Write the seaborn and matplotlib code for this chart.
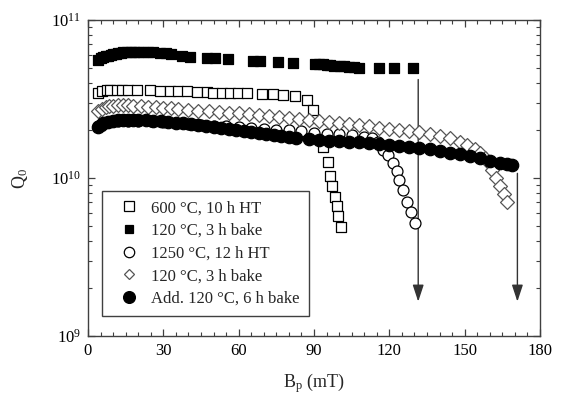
import numpy as np
import pandas as pd
import matplotlib
matplotlib.use("Agg")
import matplotlib.pyplot as plt
from matplotlib.ticker import MultipleLocator, LogLocator, NullFormatter
from matplotlib.lines import Line2D
import seaborn as sns

# ---------------- data ----------------
labels = ["600 \u00b0C, 10 h HT", "120 \u00b0C, 3 h bake", "1250 \u00b0C, 12 h HT",
          "120 \u00b0C, 3 h bake", "Add. 120 \u00b0C, 6 h bake"]

# open squares: 600 C, 10 h HT  (Q0 in units of 1e10)
sq_open_x = [4.1, 5.5, 7.4, 8.8, 11.4, 13.4, 16.1, 19.4, 24.7, 28.7, 32.7, 35.8, 39.4,
             43.4, 47.4, 49.8, 53.4, 56.5, 59.7, 63.3, 69.3, 73.7, 77.6, 82.4, 87.2,
             89.6, 93.7, 95.7, 96.4, 97.0, 98.4, 99.0, 99.7, 100.8]
sq_open_q = [3.45, 3.55, 3.60, 3.60, 3.60, 3.60, 3.60, 3.60, 3.58, 3.57, 3.55, 3.55, 3.53,
             3.50, 3.48, 3.47, 3.45, 3.45, 3.44, 3.43, 3.40, 3.38, 3.35, 3.28, 3.10,
             2.70, 1.58, 1.27, 1.03, 0.89, 0.755, 0.665, 0.575, 0.49]

# filled squares: 120 C, 3 h bake (after 600 C HT)
sq_fill_x = [4, 5, 6, 7, 8, 9, 10, 11, 12, 13, 14, 15.5, 17, 18.5, 20, 22, 24, 26, 28.7,
             31, 33, 37.4, 40.6, 47.4, 50.5, 55.8, 65.7, 68.5, 75.7, 81.6, 90.4, 92,
             93.6, 95, 96.4, 98, 100.4, 102, 104, 106, 108, 116, 122, 129.4]
sq_fill_q = [5.6, 5.75, 5.85, 5.9, 5.95, 6.0, 6.05, 6.1, 6.15, 6.2, 6.25, 6.3, 6.3, 6.3,
             6.3, 6.28, 6.27, 6.25, 6.2, 6.15, 6.1, 5.9, 5.85, 5.75, 5.72, 5.66, 5.5,
             5.48, 5.4, 5.33, 5.26, 5.25, 5.24, 5.22, 5.2, 5.15, 5.1, 5.08, 5.05, 5.03,
             5.0, 4.97, 4.97, 4.97]

# open circles: 1250 C, 12 h HT
ci_open_x = [4, 8, 12, 16, 20, 25, 30, 35, 40, 45, 50, 55, 60, 65, 70, 75, 80, 85, 90,
             95, 100, 105, 110, 113, 115.5, 117.6, 119.5, 121.5, 123, 124, 125.4, 127,
             128.6, 130.2]
ci_open_q = [2.12, 2.25, 2.3, 2.31, 2.31, 2.29, 2.26, 2.23, 2.2, 2.17, 2.14, 2.12, 2.1,
             2.07, 2.05, 2.02, 2.0, 1.97, 1.94, 1.91, 1.89, 1.86, 1.83, 1.79, 1.68, 1.5,
             1.4, 1.25, 1.1, 0.97, 0.84, 0.71, 0.61, 0.52]

# open diamonds: 120 C, 3 h bake (after 1250 C HT)
di_x = [4, 5.5, 7, 8.5, 10, 12, 14, 16, 18, 21, 24, 27, 30, 33, 36, 40, 44, 48, 52, 56,
        60, 64, 68, 72, 76, 80, 84, 88, 92, 96, 100, 104, 108, 112, 116, 120, 124, 128,
        132, 136, 140, 144, 148, 151, 154, 156, 158, 160, 161, 162.5, 164, 165.5, 167]
di_q = [2.65, 2.75, 2.8, 2.85, 2.87, 2.88, 2.88, 2.88, 2.87, 2.85, 2.83, 2.81, 2.79,
        2.77, 2.74, 2.7, 2.67, 2.64, 2.62, 2.59, 2.56, 2.53, 2.5, 2.47, 2.44, 2.41, 2.38,
        2.34, 2.3, 2.27, 2.23, 2.2, 2.17, 2.13, 2.08, 2.05, 2.02, 1.98, 1.95, 1.9, 1.85,
        1.78, 1.7, 1.62, 1.52, 1.44, 1.33, 1.22, 1.12, 1.0, 0.89, 0.79, 0.70]

# filled circles: Add. 120 C, 6 h bake
ci_fill_x = [4, 5, 6, 8, 10, 12, 14, 16, 18, 20, 23, 26, 29, 32, 35, 38, 41, 44, 47, 50,
             53, 56, 59, 62, 65, 68, 71, 74, 77, 80, 83, 88, 92, 96, 100, 104, 108, 112,
             116, 120, 124, 128, 132, 136, 140, 144, 148, 152, 156, 160, 164, 167, 169]
ci_fill_q = [2.1, 2.17, 2.22, 2.27, 2.3, 2.33, 2.34, 2.34, 2.33, 2.33, 2.32, 2.3, 2.28,
             2.26, 2.24, 2.22, 2.2, 2.17, 2.14, 2.11, 2.08, 2.05, 2.02, 1.99, 1.96, 1.93,
             1.9, 1.87, 1.85, 1.83, 1.8, 1.76, 1.74, 1.72, 1.71, 1.70, 1.68, 1.66, 1.63,
             1.61, 1.59, 1.57, 1.55, 1.52, 1.48, 1.45, 1.42, 1.38, 1.33, 1.29, 1.25,
             1.22, 1.20]

# arrows (quench field indicators)
arrow_x = [131.5, 171.0]
arrow_q_start = [4.2, 1.07]
arrow_q_end = [0.165, 0.165]

scale = 1e10
xticks = [0, 30, 60, 90, 120, 150, 180]

# ---------------- style ----------------
sns.set_theme(style="ticks")
plt.rcParams["font.family"] = ["Liberation Serif", "DejaVu Serif"]
plt.rcParams["mathtext.fontset"] = "custom"
plt.rcParams["mathtext.rm"] = "Liberation Serif"
plt.rcParams["mathtext.it"] = "Liberation Serif:italic"
plt.rcParams["mathtext.default"] = "rm"
spine_c = "#404040"

fig = plt.figure(figsize=(5.62, 4.0), dpi=100)
ax = fig.add_axes([88 / 562, 64 / 400, 452 / 562, 316 / 400])

def df(x, q):
    return pd.DataFrame({"B": x, "Q": np.array(q) * scale})

lw = 0.9
sns.scatterplot(data=df(sq_open_x, sq_open_q), x="B", y="Q", marker="s", s=55,
                color="white", edgecolor="black", linewidth=lw, ax=ax, zorder=3)
sns.scatterplot(data=df(sq_fill_x, sq_fill_q), x="B", y="Q", marker="s", s=55,
                color="black", edgecolor="black", linewidth=lw, ax=ax, zorder=3)
sns.scatterplot(data=df(ci_open_x, ci_open_q), x="B", y="Q", marker="o", s=62,
                color="white", edgecolor="black", linewidth=lw, ax=ax, zorder=3)
sns.scatterplot(data=df(di_x, di_q), x="B", y="Q", marker="D", s=50,
                color="white", edgecolor="#555555", linewidth=lw, ax=ax, zorder=3)
sns.scatterplot(data=df(ci_fill_x, ci_fill_q), x="B", y="Q", marker="o", s=80,
                color="black", edgecolor="black", linewidth=lw, ax=ax, zorder=3)

for xa, q0, q1 in zip(arrow_x, arrow_q_start, arrow_q_end):
    ax.annotate("", xy=(xa, q1 * scale), xytext=(xa, q0 * scale),
                arrowprops=dict(arrowstyle="-|>,head_length=0.85,head_width=0.28",
                                color="#333333", lw=1.0, shrinkA=0, shrinkB=0),
                zorder=2)

ax.set_yscale("log")
ax.set_xlim(0, 180)
ax.set_ylim(1e9, 1e11)
ax.set_xticks(xticks)
ax.set_xticklabels([str(t) for t in xticks])
ax.xaxis.set_minor_locator(MultipleLocator(5))
ax.yaxis.set_major_locator(LogLocator(base=10, numticks=5))
ax.yaxis.set_minor_locator(LogLocator(base=10, subs=np.arange(2, 10), numticks=20))
ax.yaxis.set_minor_formatter(NullFormatter())

ax.tick_params(which="both", direction="in", top=True, right=True, color=spine_c,
               labelsize=12, labelcolor="black", pad=5)
ax.tick_params(which="major", length=5, width=0.9)
ax.tick_params(which="minor", length=3, width=0.8)
for sp in ax.spines.values():
    sp.set_visible(True)
    sp.set_color(spine_c)
    sp.set_linewidth(1.0)

ax.set_xlabel("B$_{\\rm p}$ (mT)", fontsize=13, labelpad=9)
ax.set_ylabel("Q$_0$", fontsize=13, labelpad=15)

handles = [
    Line2D([], [], ls="none", marker="s", ms=7, mfc="white", mec="black", mew=lw),
    Line2D([], [], ls="none", marker="s", ms=6, mfc="black", mec="black", mew=lw),
    Line2D([], [], ls="none", marker="o", ms=7.5, mfc="white", mec="black", mew=lw),
    Line2D([], [], ls="none", marker="D", ms=5.5, mfc="white", mec="#555555", mew=lw),
    Line2D([], [], ls="none", marker="o", ms=8.5, mfc="black", mec="black", mew=lw),
]
leg = ax.legend(handles, labels, loc="lower left", bbox_to_anchor=(14 / 452, 20 / 316),
                borderaxespad=0, frameon=True, fancybox=False, fontsize=12,
                handlelength=2.1, handletextpad=0.3, borderpad=0.55, labelspacing=0.4)
leg.get_frame().set_edgecolor(spine_c)
leg.get_frame().set_linewidth(1.0)
leg.get_frame().set_facecolor("white")
leg.get_frame().set_alpha(1.0)

fig.savefig("out.png", dpi=100)
